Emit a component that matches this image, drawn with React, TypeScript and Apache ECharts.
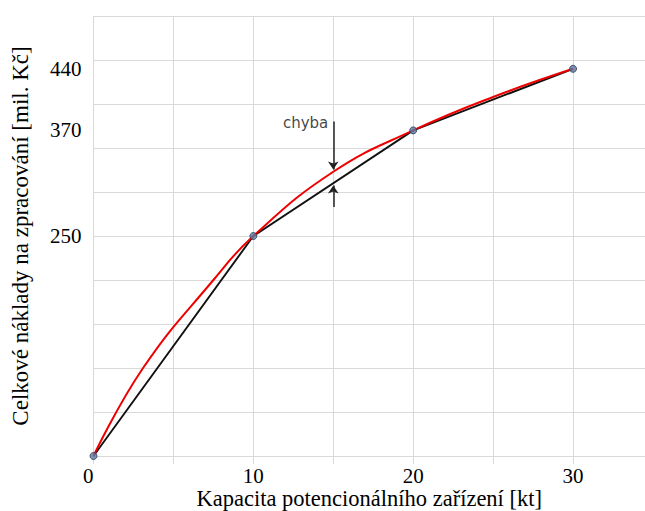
import React, { useEffect, useRef } from "react";
import * as echarts from "echarts";

// Black polyline (linear approximation) – capacity [kt] vs total cost [mil. Kč]
const capacity = [0, 10, 20, 30];
const cost = [0, 250, 370, 440];

// Red curve
const curveX = [0, 3.1, 7.5, 10, 15, 20, 25, 30];
const curveY = [0, 100, 200, 250, 323, 370, 408, 440];

// Tick labels
const xTickLabels = [0, 10, 20, 30];
const yTickLabels = [250, 370, 440];

// "chyba" (error) annotation at x = 15
const errorX = 15;
const errorTopArrow = [380, 325.5];
const errorBottomArrow = [283, 307.5];
const errorLabelY = 378;
const errorLabel = "chyba";

const xTitle = "Kapacita potencionálního zařízení [kt]";
const yTitle = "Celkové náklady na zpracování [mil. Kč]";

export default function App() {
  const ref = useRef<HTMLDivElement>(null);
  useEffect(() => {
    if (!ref.current) return;
    const chart = echarts.init(ref.current, undefined, { renderer: "svg" });
    const serif = "'Liberation Serif', 'Times New Roman', serif";
    const grey = "#d9d9d9";
    const blackPts = capacity.map((x, i) => [x, cost[i]]);
    const redPts = curveX.map((x, i) => [x, curveY[i]]);
    chart.setOption({
      animation: false,
      backgroundColor: "#ffffff",
      grid: { left: 93.5, right: 0, top: 16, bottom: 55, containLabel: false, outerBoundsMode: "none" },
      xAxis: {
        type: "value",
        min: 0,
        max: 34.5,
        interval: 5,
        axisLine: { show: false },
        axisTick: { show: true, length: 8, lineStyle: { color: grey } },
        axisLabel: {
          margin: 9,
          fontSize: 21,
          fontFamily: serif,
          color: "#000",
          showMaxLabel: false,
          alignMinLabel: "right",
          formatter: (v: number) => (xTickLabels.includes(v) ? String(v) : ""),
        },
        splitLine: { show: true, lineStyle: { color: grey, width: 1 } },
        name: xTitle,
        nameLocation: "middle",
        nameMoveOverlap: false,
        nameGap: 31,
        nameTextStyle: { fontSize: 22.5, lineHeight: 22, fontFamily: serif, color: "#000" },
      },
      yAxis: {
        type: "value",
        min: 0,
        max: 500,
        interval: 50,
        axisLine: { show: false },
        axisTick: { show: false },
        axisLabel: {
          margin: 12,
          fontSize: 21,
          fontFamily: serif,
          color: "#000",
          customValues: yTickLabels,
        },
        splitLine: { show: true, lineStyle: { color: grey, width: 1 } },
        name: yTitle,
        nameLocation: "middle",
        nameMoveOverlap: false,
        nameGap: 62,
        nameTextStyle: { fontSize: 23, fontFamily: serif, color: "#000" },
      },
      series: [
        {
          type: "line",
          data: blackPts,
          showSymbol: false,
          lineStyle: { color: "#111111", width: 1.9 },
          z: 2,
          silent: true,
        },
        {
          type: "line",
          data: redPts,
          smooth: 0.45,
          showSymbol: false,
          lineStyle: { color: "#ee0000", width: 2 },
          z: 3,
          silent: true,
        },
        {
          type: "scatter",
          data: blackPts,
          symbol: "circle",
          symbolSize: 7,
          itemStyle: { color: "#5a78a4", borderColor: "#2b3a52", borderWidth: 1 },
          z: 4,
          silent: true,
        },
        {
          type: "lines",
          coordinateSystem: "cartesian2d",
          polyline: false,
          symbol: ["none", "arrow"],
          symbolSize: 8,
          lineStyle: { color: "#222222", width: 1.5, opacity: 1 },
          effect: { show: false },
          data: [
            { coords: [[errorX, errorTopArrow[0]], [errorX, errorTopArrow[1]]] },
            { coords: [[errorX, errorBottomArrow[0]], [errorX, errorBottomArrow[1]]] },
          ],
          z: 5,
          silent: true,
        },
        {
          type: "scatter",
          data: [[errorX, errorLabelY]],
          symbolSize: 0,
          label: {
            show: true,
            position: "left",
            distance: 5,
            formatter: errorLabel,
            fontSize: 15,
            fontFamily: "'DejaVu Sans', sans-serif",
            color: "#111111",
          },
          z: 6,
          silent: true,
        },
      ],
    });
    return () => chart.dispose();
  }, []);
  return (
    <div
      ref={ref}
      style={{ position: "fixed", left: 0, top: 0, width: 645, height: 511, background: "#fff" }}
    />
  );
}
